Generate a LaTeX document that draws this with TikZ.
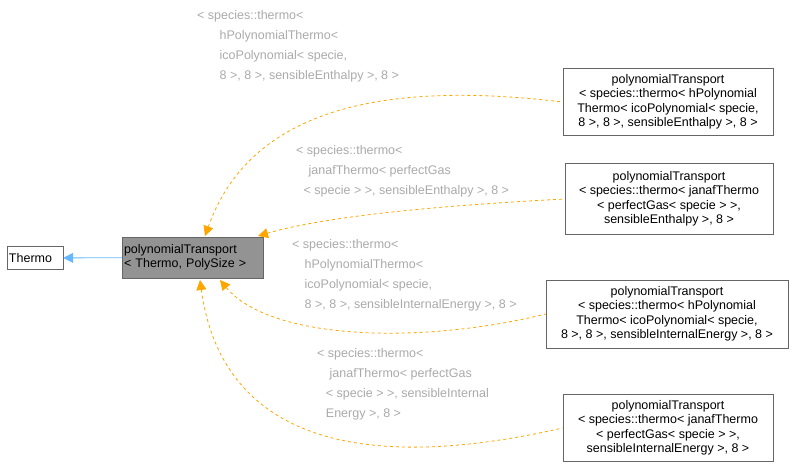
\documentclass[tikz,border=0pt]{standalone}
\usepackage{fontspec}
\setmainfont{Liberation Sans}
\usetikzlibrary{arrows.meta, positioning}
\definecolor{edgeorange}{RGB}{255,165,0}
\definecolor{edgeblue}{RGB}{99,184,255}
\definecolor{labelgray}{RGB}{170,170,170}
\tikzset{
  cls/.style={draw=gray!80!black, fill=white, align=center, font=\fontsize{12.5}{14.5}\selectfont, inner sep=2pt},
  lbl/.style={text=labelgray, align=left, font=\fontsize{12.5}{14.5}\selectfont, inner sep=0pt, anchor=north west},
  tmpl/.style={edgeorange, dashed, line width=0.8pt, {Triangle[length=10pt,width=10pt]}-},
}
\begin{document}
\begin{tikzpicture}[x=1pt, y=-1pt]
    \useasboundingbox (0,0) rectangle (793,472);
    % base classes
    \node[cls, align=left, text width=52pt, minimum height=23pt] (thermo) at (35,258) {Thermo};
    \node[cls, fill=gray!85, align=left, text width=137pt, minimum height=41pt] (base) at (192.5,257.5) {polynomialTransport\\< Thermo, PolySize >};
    \draw[edgeblue, line width=0.8pt, {Triangle[length=10pt,width=10pt]}-] (thermo) -- (base);

    % derived templates
    \node[cls, minimum width=210pt, minimum height=67pt] (hico) at (668,102) {polynomialTransport\\< species::thermo< hPolynomial\\Thermo< icoPolynomial< specie,\\ 8 >, 8 >, sensibleEnthalpy >, 8 >};
    \node[cls, minimum width=208pt, minimum height=71pt] (janaf) at (669,199) {polynomialTransport\\< species::thermo< janafThermo\\< perfectGas< specie > >,\\ sensibleEnthalpy >, 8 >};
    \node[cls, minimum width=242pt, minimum height=68pt] (hicoie) at (667,314) {polynomialTransport\\< species::thermo< hPolynomial\\Thermo< icoPolynomial< specie,\\ 8 >, 8 >, sensibleInternalEnergy >, 8 >};
    \node[cls, minimum width=210pt, minimum height=67pt] (janafie) at (668,428) {polynomialTransport\\< species::thermo< janafThermo\\< perfectGas< specie > >,\\ sensibleInternalEnergy >, 8 >};

    % template edges
    \coordinate (b1) at (205,236);
    \coordinate (b2) at (258,236);
    \coordinate (b3) at (220,280);
    \coordinate (b4) at (200,280);
    \draw[tmpl] (b1) .. controls (250,110) and (380,80) .. (hico.west);
    \draw[tmpl] (b2) .. controls (330,215) and (450,205) .. (janaf.west);
    \draw[tmpl] (b3) .. controls (270,340) and (420,345) .. (hicoie.west);
    \draw[tmpl] (b4) .. controls (215,390) and (290,490) .. (janafie.west);

    % edge labels
    \node[lbl] (l1) at (197,10) {< species::thermo<\\[5.5pt]\hspace*{1.8em}hPolynomialThermo<\\[5.5pt]\hspace*{1.8em}icoPolynomial< specie,\\[5.5pt]\hspace*{1.8em}8 >, 8 >, sensibleEnthalpy >, 8 >};
    \node[lbl] (l2) at (296,145) {< species::thermo<\\[5.5pt]\hspace*{1em}janafThermo< perfectGas\\[5.5pt]\hspace*{0.6em}< specie > >, sensibleEnthalpy >, 8 >};
    \node[lbl] (l3) at (292,239) {< species::thermo<\\[5.5pt]\hspace*{1em}hPolynomialThermo<\\[5.5pt]\hspace*{1em}icoPolynomial< specie,\\[5.5pt]\hspace*{1em}8 >, 8 >, sensibleInternalEnergy >, 8 >};
    \node[lbl] (l4) at (317,348) {< species::thermo<\\[5.5pt]\hspace*{1em}janafThermo< perfectGas\\[5.5pt]\hspace*{0.7em}< specie > >, sensibleInternal\\[5.5pt]\hspace*{0.7em}Energy >, 8 >};
\end{tikzpicture}
\end{document}
